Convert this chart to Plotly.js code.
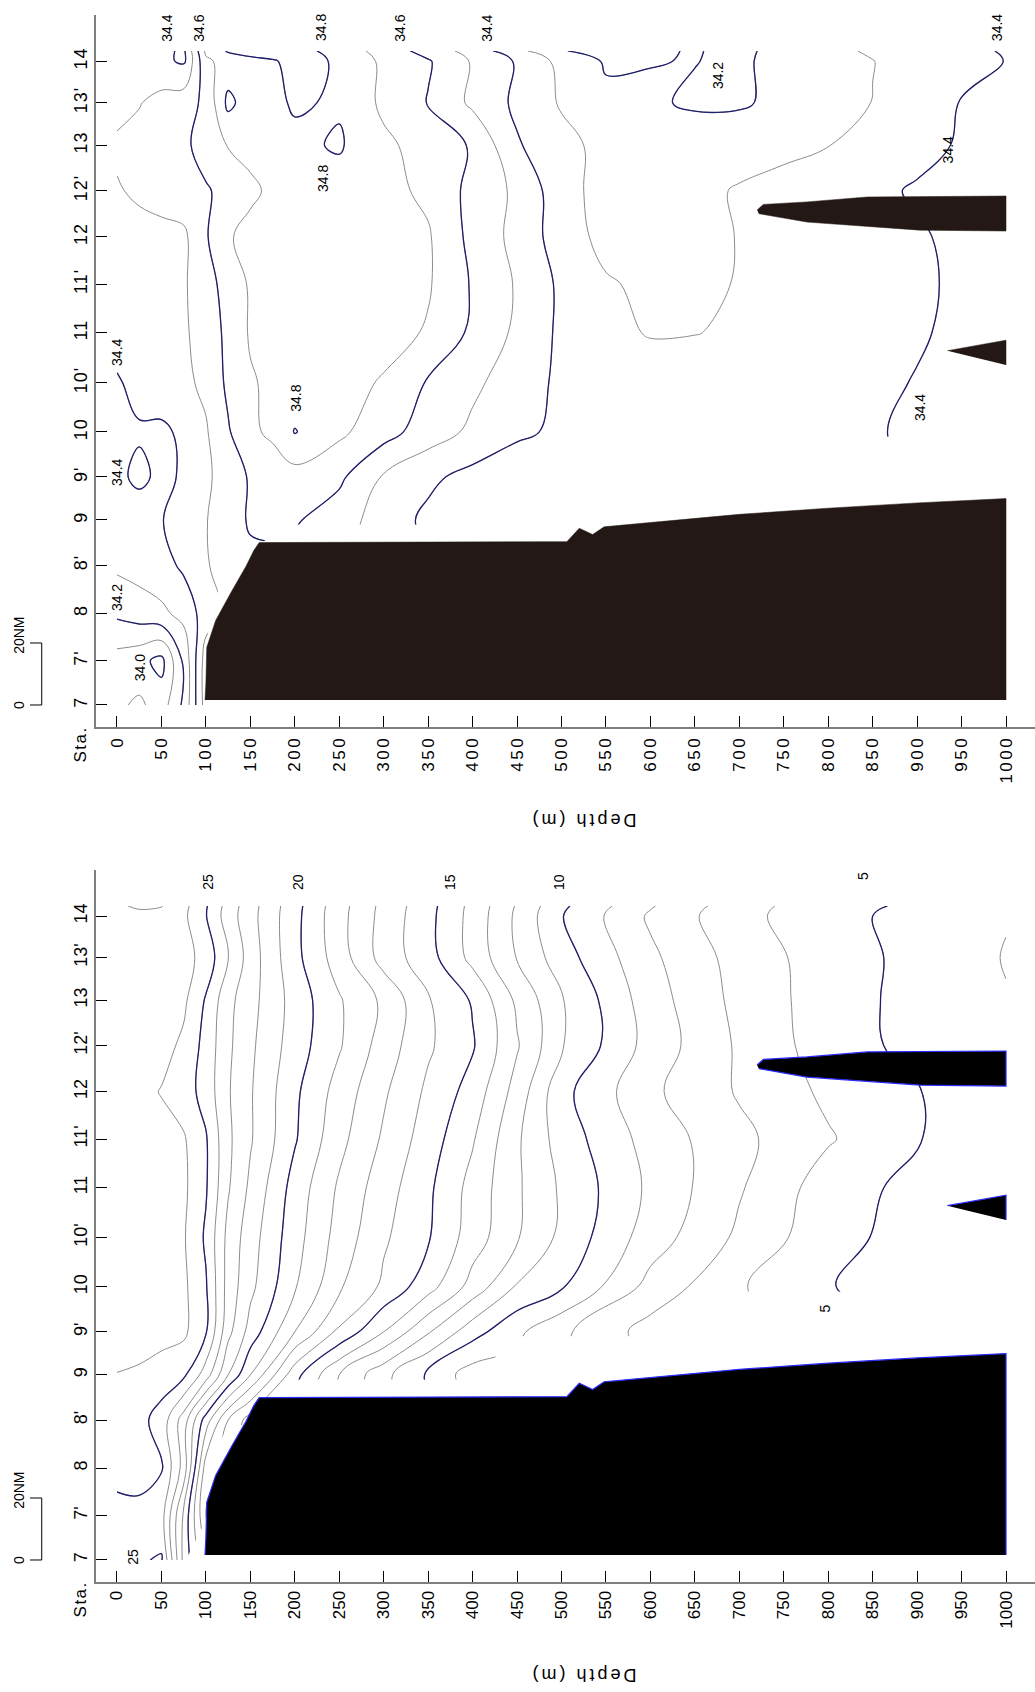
<!DOCTYPE html>
<html><head><meta charset="utf-8">
<script src="https://cdn.plot.ly/plotly-3.0.1.min.js"></script>
<style>
html,body{margin:0;padding:0;background:#fff;}
#chart{width:1035px;height:1692px;}
.xtick text{letter-spacing:2.5px;}
.ytick text{letter-spacing:1px;}
g.annotation[data-index="0"] text, g.annotation[data-index="1"] text{letter-spacing:3px;}
g.annotation[data-index="2"] text, g.annotation[data-index="3"] text{letter-spacing:1.5px;}
</style></head><body><div id="chart"></div>
<script>
// ---------------- DATA ----------------
const stationLabels = ["7","7'","8","8'","9","9'","10","10'","11","11'","12","12'","13","13'","14"];
// along-section distance of each station (nautical miles from Sta. 7)
const stationDist = [0,14.3,29.6,45.1,59.7,73.6,88.1,104.0,120.1,135.8,151.1,165.9,180.6,194.3,207.7];
// rows of the gridded sections: the stations plus the northern edge of the section
const sectionDist = [0,14.3,29.6,45.1,59.7,73.6,88.1,104.0,120.1,135.8,151.1,165.9,180.6,194.3,207.7,211];
const depthTicks = [0,50,100,150,200,250,300,350,400,450,500,550,600,650,700,750,800,850,900,950,1000];

// Salinity section (upper panel)
const salDepth = [0,25,50,75,100,125,150,175,200,250,300,350,400,450,500,550,600,650,700,750,800,850,900,950,1000];
const salinity = [
 [34.08,34.12,34.05,34.22,34.55,null,null,null,null,null,null,null,null,null,null,null,null,null,null,null,null,null,null,null,null],
 [34.06,34.03,33.97,34.22,34.55,null,null,null,null,null,null,null,null,null,null,null,null,null,null,null,null,null,null,null,null],
 [34.22,34.25,34.28,34.33,34.45,null,null,null,null,null,null,null,null,null,null,null,null,null,null,null,null,null,null,null,null],
 [34.32,34.34,34.36,34.42,34.49,34.55,34.58,null,null,null,null,null,null,null,null,null,null,null,null,null,null,null,null,null,null],
 [34.30,34.35,34.395,34.45,34.495,34.56,34.61,34.62,34.61,34.55,34.45,34.38,34.33,null,null,null,null,null,null,null,null,null,null,null,null],
 [34.38,34.42,34.38,34.41,34.48,34.55,34.61,34.64,34.66,34.62,34.49,34.42,34.37,34.33,34.31,34.31,34.305,null,null,null,null,null,null,null,null],
 [34.38,34.39,34.38,34.42,34.49,34.59,34.68,34.72,34.805,34.72,34.64,34.55,34.48,34.42,34.38,34.36,34.35,34.35,34.35,34.36,34.37,34.395,34.41,34.43,34.45],
 [34.39,34.43,34.46,34.48,34.52,34.62,34.69,34.72,34.74,34.74,34.69,34.59,34.52,34.45,34.38,34.35,34.34,34.34,34.34,34.35,34.36,34.38,34.405,34.42,34.44],
 [34.44,34.46,34.47,34.49,34.53,34.63,34.71,34.73,34.75,34.76,34.74,34.69,34.58,34.48,34.38,34.32,34.295,34.298,34.31,34.33,34.35,34.37,34.39,34.42,34.44],
 [34.46,34.47,34.48,34.49,34.55,34.65,34.71,34.74,34.75,34.76,34.75,34.71,34.59,34.49,34.38,34.31,34.28,34.28,34.305,34.33,34.35,34.37,34.39,34.41,34.43],
 [34.44,34.46,34.47,34.48,34.59,34.69,34.73,34.75,34.76,34.76,34.74,34.71,34.57,34.47,34.35,34.27,34.24,34.26,34.305,34.33,34.35,34.37,34.39,34.42,34.44],
 [34.49,34.52,34.54,34.56,34.59,34.63,34.68,34.72,34.74,34.76,34.73,34.68,34.57,34.48,34.34,34.26,34.25,34.27,34.31,34.34,34.36,34.38,34.41,34.43,34.45],
 [34.52,34.53,34.55,34.58,34.64,34.705,34.73,34.76,34.78,34.81,34.72,34.66,34.59,34.41,34.33,34.27,34.25,34.24,34.25,34.27,34.298,34.33,34.37,34.41,34.44],
 [34.46,34.495,34.53,34.56,34.62,34.825,34.75,34.78,34.81,34.79,34.68,34.595,34.48,34.38,34.29,34.22,34.21,34.19,34.19,34.22,34.26,34.302,34.34,34.405,34.42],
 [34.45,34.45,34.43,34.38,34.68,34.74,34.76,34.79,34.83,34.79,34.68,34.61,34.49,34.39,34.27,34.19,34.198,34.202,34.185,34.23,34.27,34.298,34.34,34.37,34.402],
 [34.45,34.45,34.43,34.38,34.72,34.81,34.85,34.85,34.84,34.76,34.66,34.56,34.46,34.33,34.205,34.17,34.19,34.205,34.18,34.23,34.28,34.31,34.34,34.37,34.41]
];

// Temperature section (lower panel)
const tempDepth = [0,25,50,75,100,125,150,200,250,300,350,400,450,500,600,700,800,900,1000];
const temperature = [
 [24.6,24.9,25.1,20.7,null,null,null,null,null,null,null,null,null,null,null,null,null,null,null],
 [24.7,24.85,24.4,20.8,17.0,null,null,null,null,null,null,null,null,null,null,null,null,null,null],
 [25.3,25.2,25.1,22.6,17.5,null,null,null,null,null,null,null,null,null,null,null,null,null,null],
 [25.6,25.3,24.6,22.5,19.5,17.0,15.5,null,null,null,null,null,null,null,null,null,null,null,null],
 [25.95,25.8,25.5,25.2,23.5,21.0,19.0,15.35,13.0,11.3,9.8,8.5,null,null,null,null,null,null,null],
 [26.8,26.6,26.4,26.2,25.1,22.3,20.6,18.0,15.8,14.0,12.1,10.4,9.2,8.2,6.6,null,null,null,null],
 [26.8,26.6,26.4,26.2,25.1,22.6,21.25,19.1,17.15,15.8,14.4,12.6,10.9,10.1,7.65,6.1,5.05,4.5,4.2],
 [26.8,26.6,26.4,26.1,24.85,22.7,21.45,19.4,17.6,16.15,15.1,13.5,12.1,10.75,8.5,6.8,5.35,4.6,4.2],
 [26.8,26.6,26.4,26.2,25.1,23.1,21.8,19.6,17.85,16.45,15.2,13.65,12.15,10.85,8.8,7.1,5.5,4.7,4.3],
 [26.8,26.6,26.35,26.1,25.1,23.2,22.1,20.1,18.3,16.85,15.5,14.1,12.15,10.55,8.6,7.25,6.1,5.05,4.5],
 [26.5,26.3,25.95,25.5,24.6,23.1,22.1,20.2,18.6,17.15,15.8,14.6,12.6,10.3,8.2,6.9,5.8,5.05,4.4],
 [26.9,26.7,26.35,25.8,24.65,23.2,22.2,20.5,19.1,17.55,16.15,15.1,13.1,11.1,8.6,6.85,5.5,4.7,4.1],
 [26.9,26.8,26.5,26.2,24.9,23.3,22.35,20.6,19.1,17.8,16.1,14.9,12.8,11.1,8.45,6.7,5.5,4.65,4.05],
 [26.9,26.8,26.6,26.4,25.6,24.1,22.5,20.3,18.5,16.6,15.4,13.7,11.95,10.45,8.2,6.6,5.5,4.7,3.95],
 [26.9,26.8,26.6,26.2,25.05,23.5,22.35,20.3,18.35,16.65,15.3,13.65,11.8,10.05,7.85,6.3,5.35,4.65,4.05],
 [26.9,27.1,27.05,26.3,25.1,23.6,22.4,20.35,18.4,16.7,15.35,13.7,11.9,10.2,8.1,6.4,5.4,4.8,4.2]
];

// Bathymetry (bottom depth in m against along-section distance)
const shelfDepth = [99,100,101,111,129,145,154,160,506,520,535,548,560,700,800,900,1000,1000];
const shelfDist  = [1.6,7,18.6,27.3,36.7,44.7,49.9,52.4,52.7,57,55,57.5,57.8,61.5,63.5,65.2,66.6,1.6];
const ridgeDepth = [720,727,776,844,1000,1000,903,776,722];
const ridgeDist  = [159.7,161.5,162.3,163.9,164.2,152.9,153.2,155.8,158.5];
const knollDepth = [934,1000,1000];
const knollDist  = [114.3,117.7,109.7];

// ---------------- STYLE ----------------
const NAVY = '#1f1f6b', GREY = '#8c8c8c';
const FONT = 'Liberation Sans, Arial, sans-serif';

function contourPair(x, y, z, ax, greyStart, greyEnd, greySize, blueStart, blueEnd, blueSize){
  const base = {type:'contour', x:x, y:y, z:z, xaxis:'x'+ax, yaxis:'y'+ax,
    showscale:false, hoverinfo:'skip', connectgaps:false};
  return [
    Object.assign({}, base, {contours:{coloring:'none', start:greyStart, end:greyEnd, size:greySize, showlabels:false},
      line:{color:GREY, width:1, smoothing:1.1}}),
    Object.assign({}, base, {contours:{coloring:'none', start:blueStart, end:blueEnd, size:blueSize, showlabels:false},
      line:{color:NAVY, width:1.3, smoothing:1.1}})
  ];
}
function seabed(xs, ys, ax, fill, edge){
  return {type:'scatter', mode:'lines', x:xs, y:ys, xaxis:'x'+ax, yaxis:'y'+ax, fill:'toself',
    fillcolor:fill, line:{color:edge||fill, width:edge?1.2:0.5}, hoverinfo:'skip', showlegend:false};
}

const traces = [
  ...contourPair(salDepth, sectionDist, salinity, '', 33.9, 34.9, 0.1, 34.0, 34.8, 0.2),
  seabed(shelfDepth, shelfDist, '', '#231815'),
  seabed(ridgeDepth, ridgeDist, '', '#231815'),
  seabed(knollDepth, knollDist, '', '#231815'),
  ...contourPair(tempDepth, sectionDist, temperature, '2', 4, 27, 1, 5, 25, 5),
  seabed(shelfDepth, shelfDist, '2', '#000000', '#2b2bff'),
  seabed(ridgeDepth, ridgeDist, '2', '#000000', '#2b2bff'),
  seabed(knollDepth, knollDist, '2', '#000000', '#2b2bff')
];

function xAxis(anchor){
  return {domain:[0,1], anchor:anchor, range:[-23.6,1032.6], tickmode:'array', tickvals:depthTicks,
    ticktext:depthTicks.map(String), tickangle:-90, ticks:'inside', ticklen:11, tickwidth:1, tickcolor:'#000',
    showline:true, linecolor:'#7f7f7f', linewidth:2, showgrid:false, zeroline:false,
    tickfont:{family:FONT, size:17, color:'#000'}, fixedrange:true};
}
function yAxis(anchor, dom){
  return {domain:dom, anchor:anchor, range:[-7.1,222.6], tickmode:'array', tickvals:stationDist,
    ticktext:stationLabels, tickangle:-90, ticks:'inside', ticklen:11, tickwidth:1, tickcolor:'#000',
    showline:true, linecolor:'#7f7f7f', linewidth:2, showgrid:false, zeroline:false,
    tickfont:{family:FONT, size:18, color:'#000'}, fixedrange:true};
}

function lab(text, x, y, ax, size){
  return {text:text, x:x, y:y, xref:'x'+ax, yref:'y'+ax, showarrow:false, textangle:-90,
    xanchor:'center', yanchor:'middle', font:{family:FONT, size:size||14, color:'#000'}};
}
function paperLab(text, x, y, yref, angle, size){
  return {text:text, x:x, y:y, xref:'paper', yref:yref, showarrow:false, textangle:angle,
    xanchor:'center', yanchor:'middle', font:{family:FONT, size:size, color:'#000'}};
}

const annotations = [
  paperLab('Depth (m)', 0.5186, 0.5154, 'paper', 180, 18),
  paperLab('Depth (m)', 0.5186, 0.0100, 'paper', 180, 18),
  paperLab('Sta.', -0.0165, 0.5597, 'paper', -90, 17),
  paperLab('Sta.', -0.0165, 0.0544, 'paper', -90, 17),
  paperLab('20NM', -0.082, 22.3, 'y', -90, 14),
  paperLab('0', -0.082, 0, 'y', -90, 14),
  paperLab('20NM', -0.082, 22.3, 'y2', -90, 14),
  paperLab('0', -0.082, 0, 'y2', -90, 14),
  // salinity isoline labels
  lab('34.4', 56, 218.4, ''), lab('34.6', 92, 218.4, ''), lab('34.8', 229.5, 218.4, ''),
  lab('34.6', 318, 218.4, ''), lab('34.4', 416, 218.4, ''), lab('34.4', 990, 218.4, ''),
  lab('34.2', 676, 203.2, ''), lab('34.4', 935, 179, ''), lab('34.8', 231.7, 170, ''),
  lab('34.8', 202, 99, ''), lab('34.4', 904, 96, ''),
  lab('34.4', 0, 113.9, ''), lab('34.4', 0, 75.2, ''), lab('34.2', 0, 34.8, ''), lab('34.0', 26, 11.9, ''),
  // temperature isoline labels
  lab('25', 102, 218.7, '2'), lab('20', 203.6, 218.7, '2'), lab('15', 374.6, 218.7, '2'),
  lab('10', 497, 218.7, '2'), lab('5', 839, 220.6, '2'), lab('5', 796, 81, '2'), lab('25', 18, 1, '2')
];

const bar = 'M -0.0703,20 L -0.0578,20 L -0.0578,0 L -0.0703,0';
const shapes = [
  {type:'path', xref:'paper', yref:'y', path:bar, line:{color:'#000', width:1}},
  {type:'path', xref:'paper', yref:'y2', path:bar, line:{color:'#000', width:1}}
];

const layout = {
  width:1035, height:1692, margin:{l:96, r:0, t:0, b:0}, showlegend:false,
  paper_bgcolor:'#fff', plot_bgcolor:'#fff',
  xaxis:xAxis('y'), yaxis:yAxis('x',[0.57033,0.99113]),
  xaxis2:xAxis('y2'), yaxis2:yAxis('x2',[0.06501,0.48582]),
  annotations:annotations, shapes:shapes, font:{family:FONT}
};

Plotly.newPlot('chart', traces, layout, {staticPlot:true, displayModeBar:false});
</script></body></html>
